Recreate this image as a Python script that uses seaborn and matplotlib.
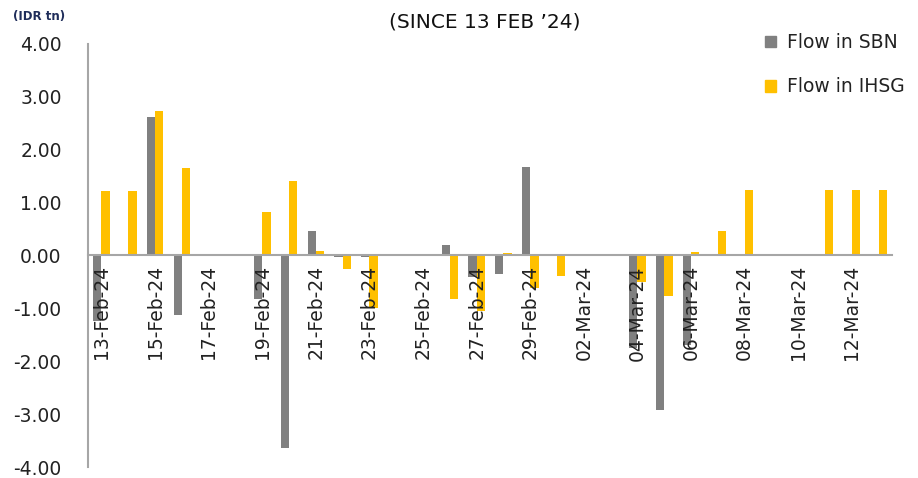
import matplotlib
matplotlib.use("Agg")
import matplotlib.pyplot as plt
import matplotlib.patches as mpatches
import seaborn as sns
import pandas as pd
import numpy as np

dates = ["13-Feb-24", "14-Feb-24", "15-Feb-24", "16-Feb-24", "17-Feb-24", "18-Feb-24",
         "19-Feb-24", "20-Feb-24", "21-Feb-24", "22-Feb-24", "23-Feb-24", "24-Feb-24",
         "25-Feb-24", "26-Feb-24", "27-Feb-24", "28-Feb-24", "29-Feb-24", "01-Mar-24",
         "02-Mar-24", "03-Mar-24", "04-Mar-24", "05-Mar-24", "06-Mar-24", "07-Mar-24",
         "08-Mar-24", "09-Mar-24", "10-Mar-24", "11-Mar-24", "12-Mar-24", "13-Mar-24"]
flow_sbn = [-1.23, 0, 2.62, -1.13, 0, 0, -0.83, -3.65, 0.47, -0.03, -0.03, 0, 0, 0.19, -0.40,
            -0.35, 1.67, 0, 0, 0, -1.75, -2.92, -1.70, 0, 0, 0, 0, 0, 0, 0]
flow_ihsg = [1.22, 1.22, 2.74, 1.65, 0, 0, 0.83, 1.40, 0.08, -0.26, -1.00, 0, 0, -0.83, -1.05,
             0.04, -0.62, -0.38, 0, 0, -0.50, -0.77, 0.07, 0.46, 1.245, 0, 0, 1.245, 1.245, 1.245]
series_names = ["Flow in SBN", "Flow in IHSG"]
yticks = [-4, -3, -2, -1, 0, 1, 2, 3, 4]
title = "(SINCE 13 FEB \u201924)"
unit = "(IDR tn)"

colors = ["#808080", "#FFC000"]

df = pd.DataFrame({
    "date": dates * 2,
    "value": flow_sbn + flow_ihsg,
    "series": [series_names[0]] * len(dates) + [series_names[1]] * len(dates),
})

sns.set_style("white")
plt.rcParams["font.family"] = ["DejaVu Sans"]

fig = plt.figure(figsize=(9.18, 4.78), dpi=100)
ax = fig.add_axes([0.0959, 0.023, 0.8758, 0.885])

sns.barplot(data=df, x="date", y="value", hue="series", order=dates,
            hue_order=series_names, palette=colors, width=0.62, ax=ax,
            legend=False, saturation=1, linewidth=0, gap=0)
ax.set_axisbelow(False)

ax.set_xlim(-0.5, len(dates) - 0.5)
ax.set_ylim(-4, 4)
ax.set_xlabel("")
ax.set_ylabel("")

ax.set_yticks(yticks)
ax.set_yticklabels([f"{v:.2f}" for v in yticks], fontsize=13.5, color="#222222")
ax.tick_params(axis="y", direction="out", length=8, width=1.2, color="#a6a6a6", pad=11)

# x: boundary tick marks every two categories, labels on every other category
ax.set_xticks(np.arange(1.5, len(dates), 2))
ax.set_xticklabels([])
ax.tick_params(axis="x", which="major", direction="out", length=6, width=1.2, color="#a6a6a6")
ax.set_xticks(np.arange(0, len(dates), 2), minor=True)
ax.set_xticklabels(dates[::2], minor=True)
ax.tick_params(axis="x", which="minor", length=0, pad=7, labelrotation=90,
               labelsize=13.5, labelcolor="#222222")

for s in ["top", "right"]:
    ax.spines[s].set_visible(False)
ax.spines["bottom"].set_position(("data", 0))
ax.spines["bottom"].set_color("#a6a6a6")
ax.spines["bottom"].set_linewidth(1.5)
ax.spines["left"].set_color("#a6a6a6")
ax.spines["left"].set_linewidth(1.5)

fig.text(0.528, 0.953, title, ha="center", va="center", fontsize=14.5, color="#111111")
fig.text(0.014, 0.966, unit, ha="left", va="center", fontsize=8.5, fontweight="bold",
         color="#1f2d5a")

handles = [mpatches.Patch(color=c, label=n) for c, n in zip(colors, series_names)]
fig.legend(handles=handles, loc="upper left", bbox_to_anchor=(0.815, 0.966),
           frameon=False, fontsize=13.5, handlelength=0.6, handleheight=0.6,
           handletextpad=0.55, labelspacing=1.35, labelcolor="#222222")

fig.savefig("out.png", dpi=100)
